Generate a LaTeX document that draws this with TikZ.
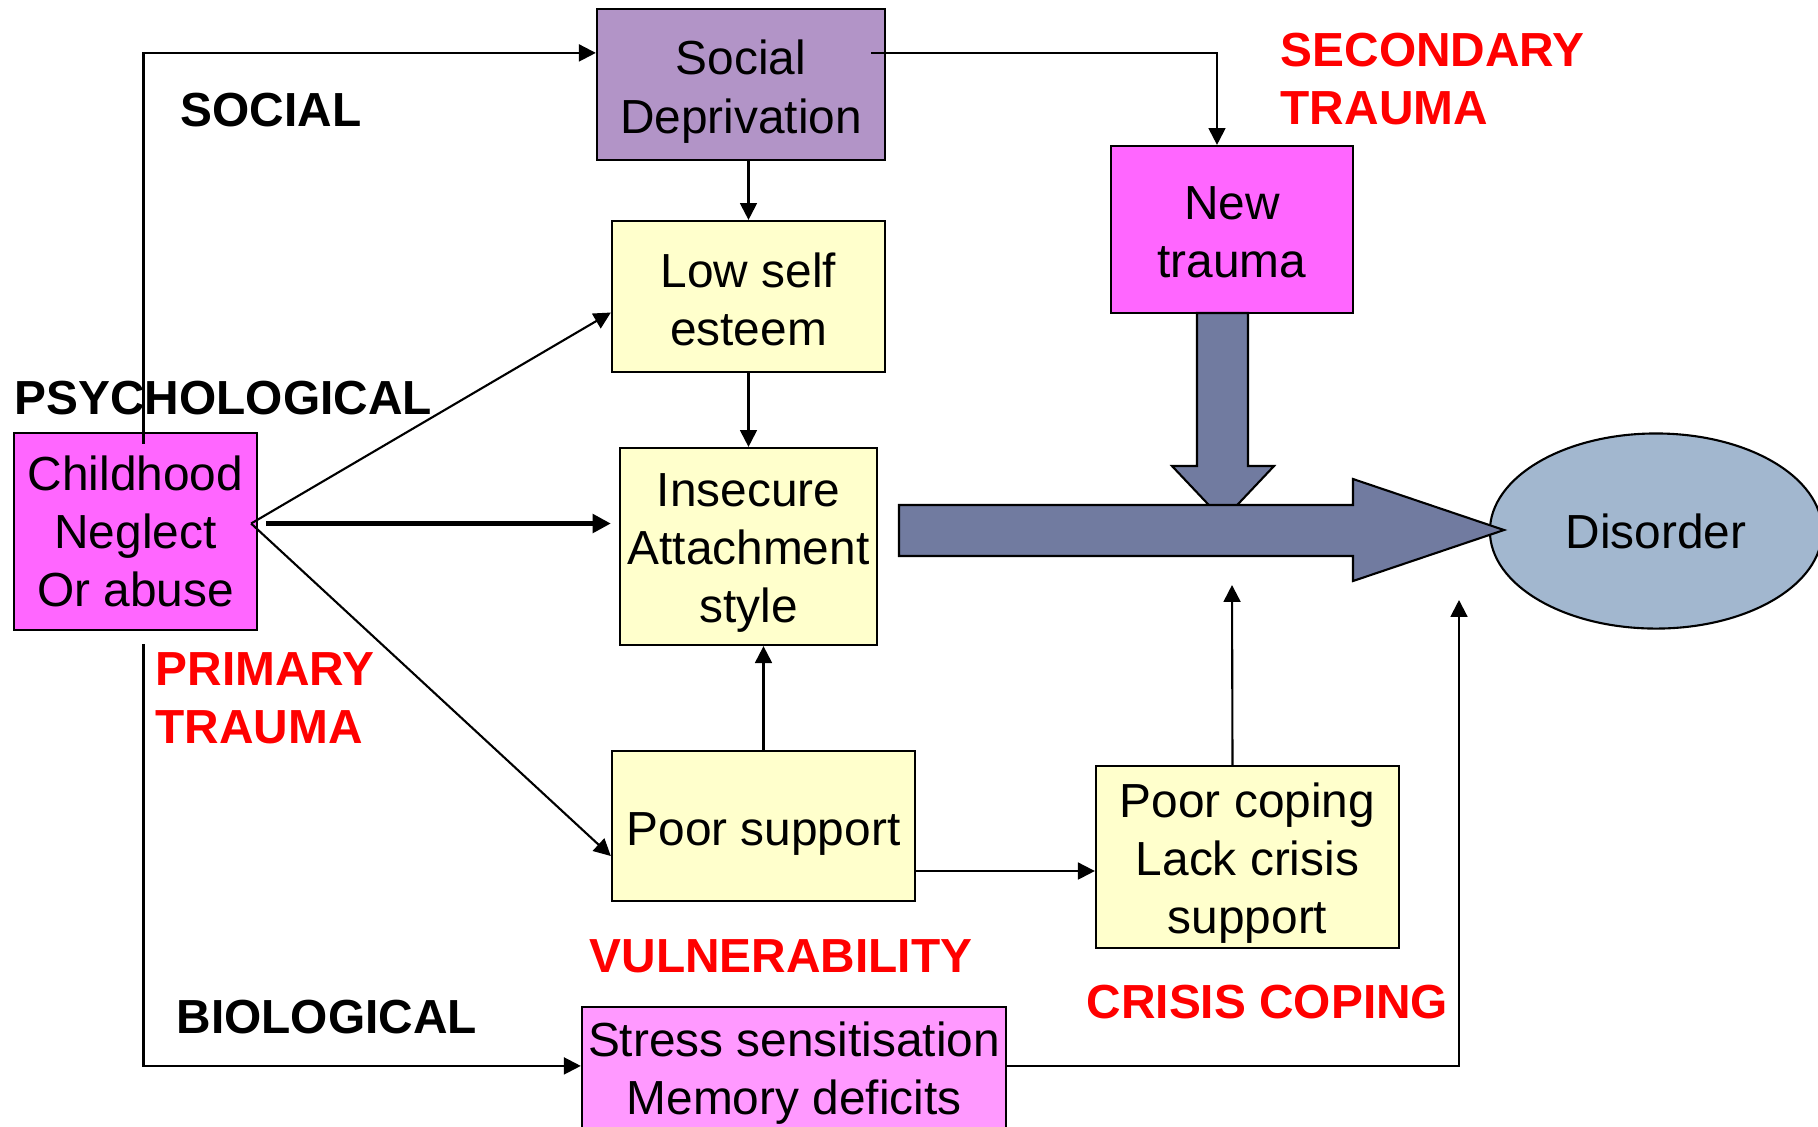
\documentclass[tikz,border=0pt]{standalone}
\usepackage{fontspec}
\setmainfont{Liberation Sans}
\usetikzlibrary{calc, positioning}
\usetikzlibrary{arrows.meta}
\usetikzlibrary{shapes.geometric}

\definecolor{socialpurple}{HTML}{B294C7}
\definecolor{paleyellow}{HTML}{FFFFCC}
\definecolor{traumapink}{HTML}{FF66FF}
\definecolor{stresspink}{HTML}{FF99FF}
\definecolor{disorderblue}{HTML}{A2B7CF}
\definecolor{arrowslate}{HTML}{717BA0}
\definecolor{labelred}{HTML}{FF0000}

\newcommand{\boxfont}{\fontsize{13.6}{16.5}\selectfont}
\newcommand{\lblfont}{\fontsize{13.6}{16.5}\selectfont\bfseries}
% invisible strut that lowers the text inside a box
\newcommand{\dropstrut}[1]{\rule{0pt}{#1}}

\begin{document}
\begin{tikzpicture}[x=0.01cm,y=-0.01cm,
    box/.style={draw, line width=0.6pt, inner sep=0pt, align=center, font=\boxfont},
    lbl/.style={inner sep=0pt, anchor=west, align=left, font=\lblfont},
    conn/.style={line width=0.6pt, -{Triangle[length=4.8pt,width=4.8pt]}},
    thickconn/.style={line width=1.6pt, -{Triangle[length=5.2pt,width=5.2pt]}},
    block/.style={draw, line width=0.6pt, fill=arrowslate}]
\clip (0,0) rectangle (1818,1126);

% Boxes
\node[box, fill=socialpurple, minimum width=2.88cm, minimum height=1.51cm]
    (social) at (741,84.5) {\dropstrut{13.9pt}Social\\Deprivation};
\node[box, fill=paleyellow, minimum width=2.73cm, minimum height=1.51cm]
    (low) at (748.5,296.5) {\dropstrut{11.6pt}Low self\\esteem};
\node[box, fill=paleyellow, minimum width=2.57cm, minimum height=1.97cm]
    (insecure) at (748.5,546.5) {\dropstrut{13.2pt}Insecure\\Attachment\\style};
\node[box, fill=paleyellow, minimum width=3.03cm, minimum height=1.50cm]
    (poor) at (763.5,826) {\dropstrut{13.9pt}Poor support};
\node[box, fill=paleyellow, minimum width=3.03cm, minimum height=1.82cm]
    (coping) at (1247.5,857) {\dropstrut{13.2pt}Poor coping\\Lack crisis\\support};
\node[box, fill=stresspink, minimum width=4.24cm, minimum height=1.33cm]
    (stress) at (794,1073.5) {Stress sensitisation\\Memory deficits};
\node[box, fill=traumapink, minimum width=2.42cm, minimum height=1.67cm]
    (newtr) at (1232,229.5) {\dropstrut{11pt}New\\trauma};
\node[box, fill=traumapink, minimum width=2.43cm, minimum height=1.97cm]
    (child) at (135.5,531.5) {Childhood\\Neglect\\Or abuse};
\node[box, ellipse, fill=disorderblue, minimum width=3.32cm, minimum height=1.95cm]
    (disorder) at (1656,531) {Disorder};

% Block arrows
\draw[block] (1197,313) -- (1248,313) -- (1248,466) -- (1274,466)
    -- (1223,520) -- (1172,466) -- (1197,466) -- cycle;
\draw[block] (899,505) -- (1353,505) -- (1353,479) -- (1504,530)
    -- (1353,581) -- (1353,556) -- (899,556) -- cycle;

% Domain labels
\node[lbl] (lblsocial) at (180,110) {SOCIAL};
\node[lbl] (lblpsych) at (14,398) {PSYCHOLOGICAL};
\node[lbl] (lblbio) at (176,1017) {BIOLOGICAL};
\node[lbl, text=labelred] (lblprimary) at (155,698) {PRIMARY\\TRAUMA};
\node[lbl, text=labelred] (lblvuln) at (589,956) {VULNERABILITY};
\node[lbl, text=labelred] (lblcrisis) at (1086,1002) {CRISIS COPING};
\node[lbl, text=labelred] (lblsecond) at (1280,79) {SECONDARY\\TRAUMA};

% Connectors
\coordinate (fan) at ($(child.east)+(-7,-8)$);
\coordinate (copetip) at (1232,585);
\coordinate (distip) at (1459,600);

\draw[conn] ($(child.north)+(8,12)$) |- ($(social.north west)+(0,45)$);
\draw[conn] ($(child.south)+(8,13)$) |- ($(stress.north west)+(0,60)$);
\draw[conn] (fan) -- ($(low.west)+(0,16)$);
\draw[conn] (fan) -- ($(poor.west)+(0,30)$);
\draw[thickconn] ($(child.east)+(8,-8)$) -- ($(insecure.west)+(-8,-23)$);
\draw[conn] (low.north |- social.south) -- (low.north);
\draw[conn] (low.south) -- (insecure.north);
\draw[conn] (poor.north) -- (poor.north |- insecure.south);
\draw[conn] ($(social.north east)+(-15,45)$) -| ($(newtr.north)+(-15,0)$);
\draw[conn] ($(poor.east)+(0,45)$) -- ($(coping.west)+(0,14)$);
\draw[conn] ($(coping.north)+(-15,0)$) -- (copetip);
\draw[conn] ($(stress.north east)+(0,60)$) -| (distip);
\end{tikzpicture}
\end{document}
